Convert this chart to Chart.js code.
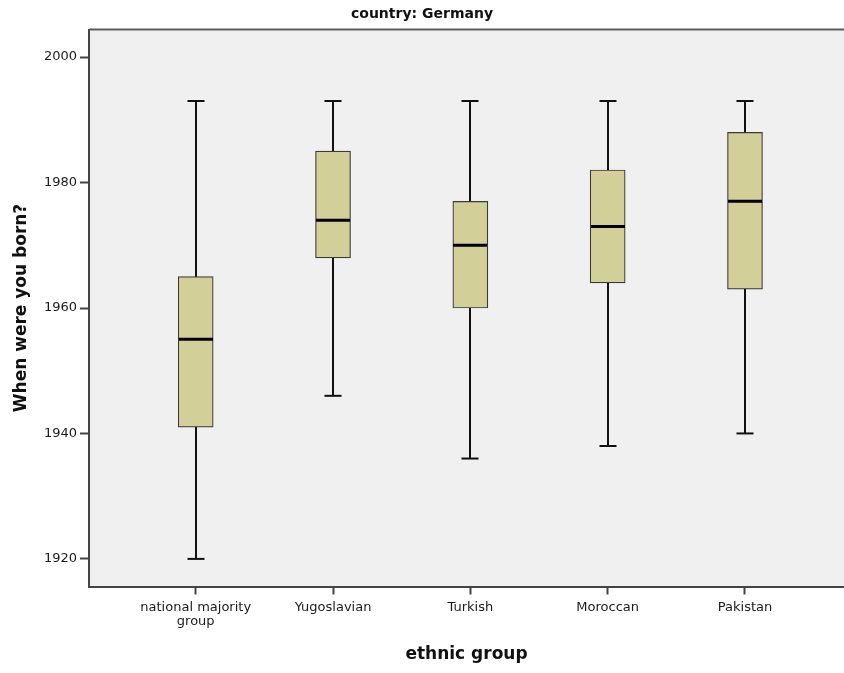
<!DOCTYPE html>
<html>
<head>
<meta charset="utf-8">
<script src="https://cdn.jsdelivr.net/npm/chart.js@4/dist/chart.umd.min.js"></script>
<style>
  html, body { margin: 0; padding: 0; background: #ffffff; }
  #wrap { width: 844px; height: 673px; }
</style>
</head>
<body>
<div id="wrap"><canvas id="c" width="844" height="673"></canvas></div>
<script>
// Birth years by ethnic group (country: Germany)
const groups = ['national majority group', 'Yugoslavian', 'Turkish', 'Moroccan', 'Pakistan'];
const groupLabels = [['national majority', 'group'], 'Yugoslavian', 'Turkish', 'Moroccan', 'Pakistan'];
const whiskerLow  = [1920, 1946, 1936, 1938, 1940];
const q1          = [1941, 1968, 1960, 1964, 1963];
const median      = [1955, 1974, 1970, 1973, 1977];
const q3          = [1965, 1985, 1977, 1982, 1988];
const whiskerHigh = [1993, 1993, 1993, 1993, 1993];
const yTicks      = [1920, 1940, 1960, 1980, 2000];

const FRAME = '#444444';
const INK = '#111111';

// Plot background, top frame line, whiskers (behind boxes), caps and medians (on top)
const boxPlotParts = {
  id: 'boxPlotParts',
  beforeDraw(chart) {
    const { ctx, chartArea: a } = chart;
    ctx.save();
    ctx.fillStyle = '#f0f0f0';
    ctx.fillRect(a.left, a.top, a.right - a.left, a.bottom - a.top);
    ctx.restore();
  },
  beforeDatasetsDraw(chart) {
    const { ctx, scales: { x, y } } = chart;
    ctx.save();
    ctx.strokeStyle = INK;
    ctx.lineWidth = 2;
    groups.forEach((g, i) => {
      const px = Math.round(x.getPixelForValue(i + 1));
      ctx.beginPath();
      ctx.moveTo(px, y.getPixelForValue(whiskerLow[i]));
      ctx.lineTo(px, y.getPixelForValue(whiskerHigh[i]));
      ctx.stroke();
    });
    ctx.restore();
  },
  afterDatasetsDraw(chart) {
    const { ctx, scales: { x, y }, chartArea: a } = chart;
    const capHalf = x.getPixelForValue(1.062) - x.getPixelForValue(1);
    const boxHalf = 17;
    ctx.save();
    ctx.strokeStyle = INK;
    groups.forEach((g, i) => {
      const px = Math.round(x.getPixelForValue(i + 1));
      ctx.lineWidth = 2;
      [whiskerLow[i], whiskerHigh[i]].forEach(v => {
        const py = y.getPixelForValue(v);
        ctx.beginPath();
        ctx.moveTo(px - capHalf, py);
        ctx.lineTo(px + capHalf, py);
        ctx.stroke();
      });
      ctx.lineWidth = 3;
      ctx.strokeStyle = '#000000';
      const pm = y.getPixelForValue(median[i]);
      ctx.beginPath();
      ctx.moveTo(px - boxHalf, pm);
      ctx.lineTo(px + boxHalf, pm);
      ctx.stroke();
      ctx.strokeStyle = INK;
    });
    // top frame line
    ctx.strokeStyle = '#5a5a5a';
    ctx.lineWidth = 2;
    ctx.beginPath();
    ctx.moveTo(a.left, a.top);
    ctx.lineTo(a.right, a.top);
    ctx.stroke();
    ctx.restore();
  }
};

new Chart(document.getElementById('c'), {
  type: 'bar',
  data: {
    datasets: [{
      label: 'interquartile range',
      data: groups.map((g, i) => ({ x: i + 1, y: [q1[i], q3[i]] })),
      backgroundColor: '#d3cf98',
      borderColor: '#3a3a3a',
      borderWidth: 1.2,
      borderSkipped: false,
      barThickness: 35
    }]
  },
  options: {
    responsive: false,
    animation: false,
    events: [],
    layout: { padding: { left: 0, right: 0, top: 0, bottom: 0 } },
    plugins: {
      legend: { display: false },
      tooltip: { enabled: false },
      title: {
        display: true,
        text: 'country: Germany',
        color: '#111111',
        font: { family: 'DejaVu Sans', size: 14, weight: 'bold', lineHeight: 1.2 },
        padding: { top: 6, bottom: 6.7 }
      }
    },
    scales: {
      x: {
        type: 'linear',
        min: 0.223,
        max: 5.721,
        offset: false,
        afterBuildTicks(scale) {
          scale.ticks = groups.map((g, i) => ({ value: i + 1 }));
        },
        afterFit(scale) { scale.height = 86.5; },
        grid: {
          display: true,
          offset: false,
          drawOnChartArea: false,
          drawTicks: true,
          tickLength: 8,
          tickWidth: 2,
          tickColor: FRAME
        },
        border: { display: true, color: FRAME, width: 2 },
        ticks: {
          autoSkip: false,
          maxRotation: 0,
          padding: 6,
          color: '#1a1a1a',
          font: { family: 'DejaVu Sans', size: 13, lineHeight: 1.08 },
          callback: (v) => groupLabels[v - 1]
        },
        title: {
          display: true,
          text: 'ethnic group',
          color: '#111111',
          font: { family: 'DejaVu Sans', size: 17, weight: 'bold', lineHeight: 1.2 },
          padding: { top: 0, bottom: 8 }
        }
      },
      y: {
        type: 'linear',
        min: 1915.6,
        max: 2004.4,
        afterBuildTicks(scale) {
          scale.ticks = yTicks.map(v => ({ value: v }));
        },
        afterFit(scale) { scale.width = 89; },
        grid: {
          display: true,
          drawOnChartArea: false,
          drawTicks: true,
          tickLength: 9,
          tickWidth: 2,
          tickColor: FRAME
        },
        border: { display: true, color: FRAME, width: 2 },
        ticks: {
          padding: 3,
          color: '#1a1a1a',
          font: { family: 'DejaVu Sans', size: 13 },
          callback: (v) => String(v)
        },
        title: {
          display: true,
          text: 'When were you born?',
          color: '#111111',
          font: { family: 'DejaVu Sans', size: 17, weight: 'bold', lineHeight: 1.2 },
          padding: { top: 11, bottom: 0 }
        }
      }
    }
  },
  plugins: [boxPlotParts]
});
</script>
</body>
</html>
